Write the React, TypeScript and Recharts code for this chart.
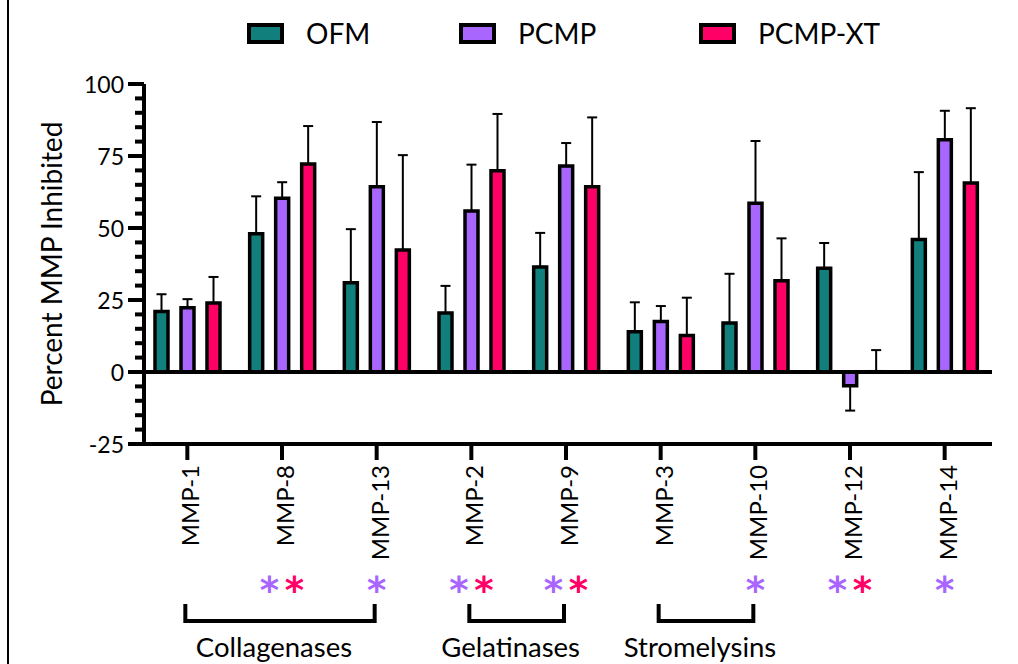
import React from "react";
import { BarChart, Bar, XAxis, YAxis, ErrorBar, ReferenceLine, Legend } from "recharts";

const categories = ["MMP-1", "MMP-8", "MMP-13", "MMP-2", "MMP-9", "MMP-3", "MMP-10", "MMP-12", "MMP-14"];
const ofm = [21, 48, 31, 20.5, 36.5, 14, 17, 36, 46];
const ofmErr = [6, 13, 18.6, 9.4, 11.8, 10.2, 17.1, 8.8, 23.4];
const pcmp = [22.3, 60.3, 64.3, 55.9, 71.5, 17.5, 58.6, -4.8, 80.6];
const pcmpErr = [3, 5.6, 22.5, 16.1, 8, 5.4, 21.6, 8.6, 10.1];
const pcmpXt = [24, 72.2, 42.4, 69.9, 64.3, 12.7, 31.7, 0.1, 65.6];
const pcmpXtErr = [9, 13.2, 32.9, 19.7, 24.1, 13.1, 14.7, 7.5, 26];

// significance marks under each category
const sigPcmp = [false, true, true, true, true, false, true, true, true];
const sigXt = [false, true, false, true, true, false, false, true, false];

const groupNames = ["Collagenases", "Gelatinases", "Stromelysins"];
const groupFrom = ["MMP-1", "MMP-2", "MMP-3"];
const groupTo = ["MMP-13", "MMP-9", "MMP-10"];

const yTicks = [-25, -20, -15, -10, -5, 0, 5, 10, 15, 20, 25, 30, 35, 40, 45, 50, 55, 60, 65, 70, 75, 80, 85, 90, 95, 100];

const TEAL = "#11807D";
const PURPLE = "#A966FF";
const PINK = "#FF0066";
const FONT = "Lato, 'Noto Sans', sans-serif";
const STAR_FONT = "'DejaVu Sans', sans-serif";

// error bars only point away from zero
const oneSided = (v: number, e: number) => (v < 0 ? [e, 0] : [0, e]);

const data = categories.map((name, i) => ({
  name,
  ofm: ofm[i],
  pcmp: pcmp[i],
  pcmpXt: pcmpXt[i],
  ofmE: oneSided(ofm[i], ofmErr[i]),
  pcmpE: oneSided(pcmp[i], pcmpErr[i]),
  pcmpXtE: oneSided(pcmpXt[i], pcmpXtErr[i]),
}));

const W = 1018;
const H = 664;
const MARGIN = { top: 0, right: 26, bottom: 20, left: 42 };
const Y_WIDTH = 102;
const X_PAD_LEFT = -4;
const BAND = (W - MARGIN.right - (MARGIN.left + Y_WIDTH + X_PAD_LEFT)) / categories.length;

function YTick(props: any) {
  const { x, y, payload } = props;
  const major = payload.value % 25 === 0;
  return (
    <g>
      <line x1={x - (major ? 16 : 9)} x2={x} y1={y} y2={y} stroke="#000" strokeWidth={4} />
      {major && (
        <text x={x - 20} y={y} textAnchor="end" dominantBaseline="central" fontSize={23} fontFamily={FONT} fill="#000">
          {payload.value}
        </text>
      )}
    </g>
  );
}

function Star({ x, color }: { x: number; color: string }) {
  return (
    <text x={x} y={603} textAnchor="middle" fontSize={37} fontWeight={700} fontFamily={STAR_FONT} fill={color}>
      *
    </text>
  );
}

function XTick(props: any) {
  const { x, y, payload } = props;
  const i = categories.indexOf(payload.value);
  const g = groupFrom.indexOf(payload.value);
  const both = sigPcmp[i] && sigXt[i];
  let bracket = null;
  if (g >= 0) {
    const span = (categories.indexOf(groupTo[g]) - i) * BAND;
    bracket = (
      <g>
        <path d={`M${x - 2},${604} V${621} H${x + span - 2} V${604}`} stroke="#000" strokeWidth={4} fill="none" />
        <text x={x + span / 2 - 8} y={657} textAnchor="middle" fontSize={27.5} fontFamily={FONT} fill="#000">
          {groupNames[g]}
        </text>
      </g>
    );
  }
  return (
    <g>
      <line x1={x} x2={x} y1={y} y2={y + 16} stroke="#000" strokeWidth={4} />
      <text
        transform={`translate(${x + 12},${y + 21}) rotate(-90)`}
        textAnchor="end"
        fontSize={24}
        fontFamily={FONT}
        fill="#000"
      >
        {payload.value}
      </text>
      {sigPcmp[i] && <Star x={both ? x - 12.5 : x} color={PURPLE} />}
      {sigXt[i] && <Star x={x + 12.5} color={PINK} />}
      {bracket}
    </g>
  );
}

function YLabel(props: any) {
  const { viewBox } = props;
  const cx = viewBox.x + 20;
  const cy = viewBox.y + viewBox.height / 2;
  return (
    <text transform={`translate(${cx},${cy}) rotate(-90)`} textAnchor="middle" fontSize={28} fontFamily={FONT} fill="#000">
      Percent MMP Inhibited
    </text>
  );
}

const legendWidths = [212, 240, 200];

function LegendContent(props: any) {
  const { payload } = props;
  return (
    <div style={{ width: W, height: 84, boxSizing: "border-box", paddingLeft: 247, paddingTop: 23, display: "flex", fontFamily: FONT }}>
      {(payload || []).map((entry: any, i: number) => (
        <div key={entry.value} style={{ display: "flex", alignItems: "center", width: legendWidths[i], height: 21 }}>
          <div style={{ width: 37, height: 21, boxSizing: "border-box", border: "4px solid #000", background: entry.color }} />
          <span style={{ marginLeft: 22, fontSize: 28, lineHeight: "21px", color: "#000" }}>{entry.value}</span>
        </div>
      ))}
    </div>
  );
}

export default function App() {
  return (
    <div style={{ position: "absolute", left: 0, top: 0, width: W, height: H, background: "#fff", overflow: "hidden" }}>
      <div style={{ position: "absolute", left: 7, top: 0, width: 2, height: H, background: "#000" }} />
      <BarChart width={W} height={H} data={data} margin={MARGIN} barSize={13} barGap={13}>
        <Legend verticalAlign="top" content={<LegendContent />} wrapperStyle={{ left: 0, top: 0, width: W, height: 84 }} />
        <XAxis
          dataKey="name"
          height={200}
          padding={{ left: X_PAD_LEFT, right: 0 }}
          axisLine={{ stroke: "#000", strokeWidth: 4 }}
          tickLine={false}
          tickSize={0}
          tickMargin={0}
          interval={0}
          tick={<XTick />}
        />
        <YAxis
          width={Y_WIDTH}
          domain={[-25, 100]}
          ticks={yTicks}
          interval={0}
          axisLine={{ stroke: "#000", strokeWidth: 4 }}
          tickLine={false}
          tickSize={0}
          tickMargin={0}
          tick={<YTick />}
          label={<YLabel />}
        />
        <Bar dataKey="ofm" name="OFM" fill={TEAL} stroke="#000" strokeWidth={3.5} isAnimationActive={false}>
          <ErrorBar dataKey="ofmE" width={5} stroke="#000" strokeWidth={2} />
        </Bar>
        <Bar dataKey="pcmp" name="PCMP" fill={PURPLE} stroke="#000" strokeWidth={3.5} isAnimationActive={false}>
          <ErrorBar dataKey="pcmpE" width={5} stroke="#000" strokeWidth={2} />
        </Bar>
        <Bar dataKey="pcmpXt" name="PCMP-XT" fill={PINK} stroke="#000" strokeWidth={3.5} isAnimationActive={false}>
          <ErrorBar dataKey="pcmpXtE" width={5} stroke="#000" strokeWidth={2} />
        </Bar>
        <ReferenceLine y={0} stroke="#000" strokeWidth={4} />
      </BarChart>
    </div>
  );
}
